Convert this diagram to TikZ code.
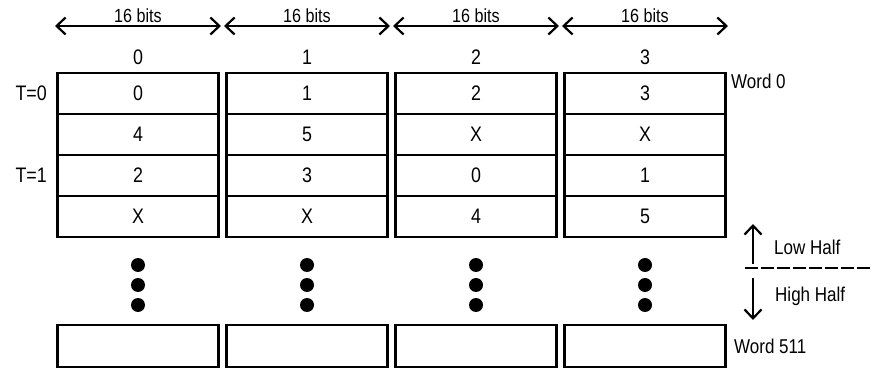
\documentclass[tikz,border=0pt]{standalone}
\usepackage{fontspec}
\setmainfont{Liberation Sans}[FakeStretch=0.85]
\usepackage{tikz}
\usetikzlibrary{arrows.meta,positioning,calc}

\begin{document}
\begin{tikzpicture}[
  x=1pt, y=-1pt,
  font=\fontsize{21}{24}\selectfont,
  cell/.style={draw, line width=2.2pt, minimum width=161pt, minimum height=#1, inner sep=0pt},
  cell/.default=41pt,
  dot/.style={circle, fill=black, minimum size=14pt, inner sep=0pt},
  lbl/.style={inner sep=0pt},
  barb/.tip={Straight Barb[length=9pt,width=17pt,line width=2.2pt]},
  span/.style={line width=1.8pt, barb-barb},
  half/.style={line width=2pt, -barb},
]
\useasboundingbox (0,0) rectangle (873,371);

% column widths and numbers
\foreach \i in {0,...,3} {
  \pgfmathsetmacro\cx{138+169*\i}
  \coordinate (l\i) at (\cx-83,26);
  \coordinate (r\i) at (\cx+83,26);
  \draw[span] (l\i) -- node[above, inner sep=2pt, font=\fontsize{19}{22}\selectfont] {16 bits} (r\i);
  \node[lbl] (h\i) at (\cx,57) {\i};
}

% the memory words
\foreach \row [count=\j from 0] in {{0,1,2,3},{4,5,X,X},{2,3,0,1},{X,X,4,5}} {
  \foreach \v [count=\i from 0] in \row {
    \pgfmathsetmacro\cx{138+169*\i}
    \node[cell] (c\i-\j) at (\cx,93.5+41*\j) {\v};
  }
}

\foreach \i in {0,...,3} {
  \pgfmathsetmacro\cx{138+169*\i}
  \foreach \k in {0,1,2} \node[dot] (d\i-\k) at (\cx,265+20*\k) {};
  \node[cell=42pt] (e\i) at (\cx,346) {};
}

\node[lbl, anchor=east] (t0) at (47,93.5) {T=0};
\node[lbl, anchor=east] (t1) at (47,175.5) {T=1};
\node[lbl, anchor=west, font=\fontsize{20}{24}\selectfont] (w0) at (731,81) {Word 0};
\node[lbl, anchor=west, font=\fontsize{20}{24}\selectfont] (w511) at (734,346) {Word 511};

% low / high half
\coordinate (lo) at (753,224);
\coordinate (los) at (753,264);
\coordinate (hi) at (753,320);
\coordinate (his) at (753,278);
\coordinate (sl) at (745,268);
\coordinate (sr) at (871,268);
\draw[half] (los) -- (lo);
\draw[half] (his) -- (hi);
\draw[line width=2.4pt, dash pattern=on 13pt off 3pt] (sl) -- (sr);
\node[lbl, anchor=west, font=\fontsize{20}{24}\selectfont] (low) at (774,247) {Low Half};
\node[lbl, anchor=west, font=\fontsize{20}{24}\selectfont] (high) at (775,296) {High Half};
\end{tikzpicture}
\end{document}
